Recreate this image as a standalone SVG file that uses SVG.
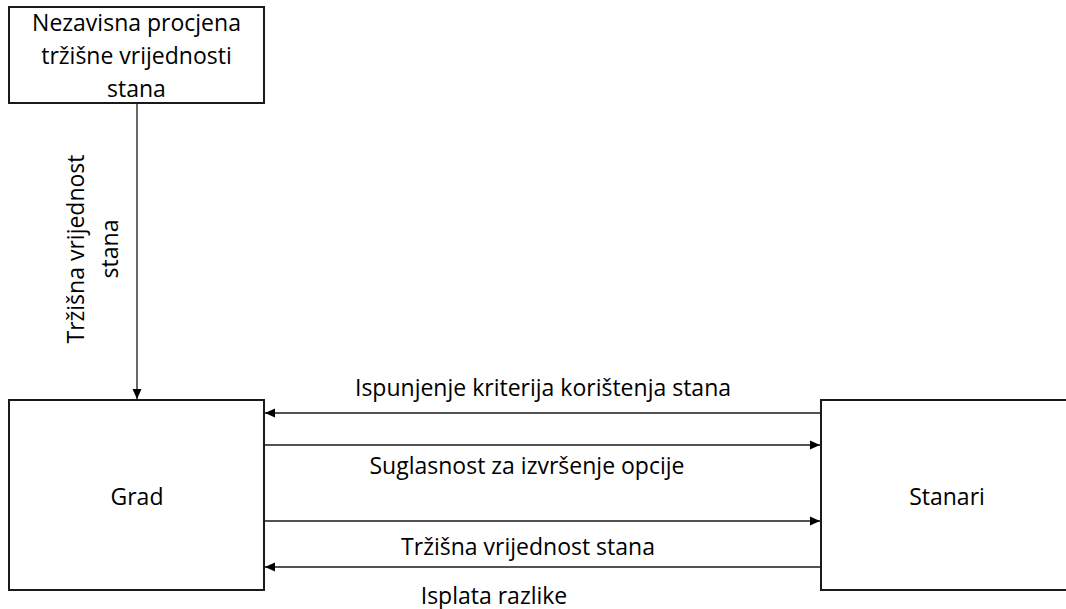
<svg xmlns="http://www.w3.org/2000/svg" width="1066" height="609" viewBox="0 0 1066 609">
<style>
.box{fill:#fff;stroke:#1a1a1a;stroke-width:2}
.t{font-family:"Open Sans","Noto Sans","Liberation Sans",sans-serif;font-size:23px;font-weight:500;fill:#000;text-anchor:middle}
.c{stroke:#1a1a1a;stroke-width:1.3;fill:none}
</style>
<defs>
<marker id="ah" markerWidth="10" markerHeight="10" refX="10" refY="5" orient="auto" markerUnits="userSpaceOnUse">
<path d="M0,0.5 L10,5 L0,9.5 Z" fill="#000"/>
</marker>
</defs>
<rect width="1066" height="609" fill="#fff"/>
<g id="node-procjena">
<rect class="box" x="9" y="7" width="255" height="96"/>
<text class="t" x="136.5" y="31">Nezavisna procjena</text>
<text class="t" x="136.5" y="64">tržišne vrijednosti</text>
<text class="t" x="136.5" y="97">stana</text>
</g>
<g id="node-grad">
<rect class="box" x="9" y="400" width="255" height="190"/>
<text class="t" x="137" y="505">Grad</text>
</g>
<g id="node-stanari">
<rect class="box" x="821" y="400" width="260" height="190"/>
<text class="t" x="947" y="505">Stanari</text>
</g>
<g id="connectors">
<line class="c" x1="137" y1="103" x2="137" y2="399" marker-end="url(#ah)"/>
<line class="c" x1="821" y1="413" x2="265" y2="413" marker-end="url(#ah)"/>
<line class="c" x1="264" y1="445" x2="820" y2="445" marker-end="url(#ah)"/>
<line class="c" x1="264" y1="521" x2="820" y2="521" marker-end="url(#ah)"/>
<line class="c" x1="821" y1="567" x2="265" y2="567" marker-end="url(#ah)"/>
</g>
<g id="labels">
<text class="t" transform="translate(84,249) rotate(-90)">Tržišna vrijednost</text>
<text class="t" transform="translate(118,249) rotate(-90)">stana</text>
<text class="t" x="543" y="396">Ispunjenje kriterija korištenja stana</text>
<text class="t" x="527" y="474">Suglasnost za izvršenje opcije</text>
<text class="t" x="528" y="555">Tržišna vrijednost stana</text>
<text class="t" x="494" y="604">Isplata razlike</text>
</g>
</svg>
